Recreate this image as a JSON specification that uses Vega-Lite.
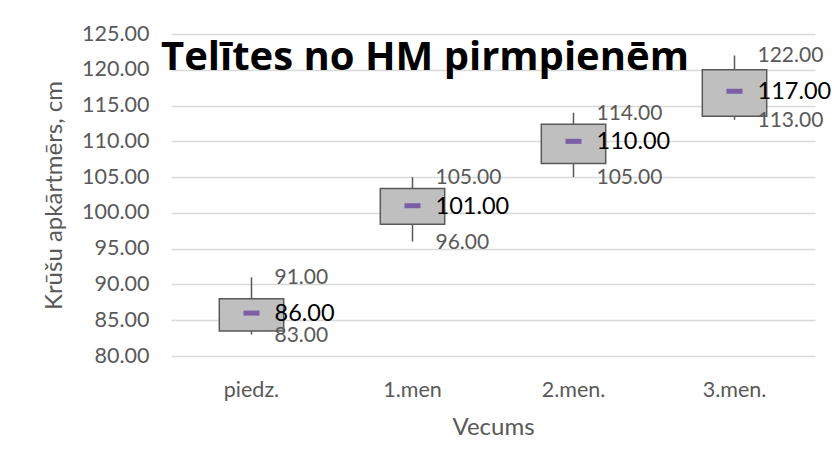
{
  "$schema": "https://vega.github.io/schema/vega-lite/v6.json",
  "autosize": {"type": "none"},
  "padding": {"left": 171, "top": 34, "right": 22, "bottom": 116},
  "width": 644,
  "height": 322,
  "background": "white",
  "title": {
    "text": "Telītes no HM pirmpienēm",
    "font": "Open Sans",
    "fontWeight": "bold",
    "fontSize": 40,
    "color": "black",
    "orient": "none",
    "anchor": "start",
    "frame": "group",
    "baseline": "alphabetic",
    "offset": 0,
    "dx": -10,
    "dy": 36
  },
  "data": {
    "values": [
      {"cat": "piedz.", "min": 83, "q1": 83.5, "med": 86, "q3": 88, "max": 91},
      {"cat": "1.men", "min": 96, "q1": 98.4, "med": 101, "q3": 103.4, "max": 105},
      {"cat": "2.men.", "min": 105, "q1": 106.9, "med": 110, "q3": 112.4, "max": 114},
      {"cat": "3.men.", "min": 113, "q1": 113.5, "med": 117, "q3": 120, "max": 122}
    ]
  },
  "encoding": {
    "x": {
      "field": "cat",
      "type": "nominal",
      "sort": null,
      "scale": {"paddingInner": 0, "paddingOuter": 0},
      "axis": {
        "title": "Vecums",
        "labelAngle": 0,
        "ticks": false,
        "tickSize": 0,
        "domain": false,
        "labelPadding": 23,
        "titlePadding": 15
      }
    }
  },
  "layer": [
    {
      "mark": {"type": "rule", "color": "#595959", "strokeWidth": 1.5},
      "encoding": {
        "y": {
          "field": "min",
          "type": "quantitative",
          "scale": {"domain": [80, 125], "nice": false, "zero": false},
          "axis": {
            "title": "Krūšu apkārtmērs, cm",
            "values": [80, 85, 90, 95, 100, 105, 110, 115, 120, 125],
            "format": ".2f",
            "labelOverlap": false,
            "grid": true,
            "ticks": false,
            "tickSize": 0,
            "domain": false,
            "labelPadding": 22,
            "titlePadding": 15
          }
        },
        "y2": {"field": "max"}
      }
    },
    {
      "mark": {"type": "bar", "width": {"band": 0.4}, "fill": "#bfbfbf", "stroke": "#595959", "strokeWidth": 1.5},
      "encoding": {
        "y": {
          "field": "q1",
          "type": "quantitative",
          "scale": {"domain": [80, 125], "nice": false, "zero": false},
          "axis": {
            "title": "Krūšu apkārtmērs, cm",
            "values": [80, 85, 90, 95, 100, 105, 110, 115, 120, 125],
            "format": ".2f",
            "labelOverlap": false,
            "grid": true,
            "ticks": false,
            "tickSize": 0,
            "domain": false,
            "labelPadding": 22,
            "titlePadding": 15
          }
        },
        "y2": {"field": "q3"}
      }
    },
    {
      "mark": {"type": "tick", "color": "#7b5ea6", "thickness": 5, "size": 16, "opacity": 1},
      "encoding": {
        "y": {
          "field": "med",
          "type": "quantitative",
          "scale": {"domain": [80, 125], "nice": false, "zero": false},
          "axis": {
            "title": "Krūšu apkārtmērs, cm",
            "values": [80, 85, 90, 95, 100, 105, 110, 115, 120, 125],
            "format": ".2f",
            "labelOverlap": false,
            "grid": true,
            "ticks": false,
            "tickSize": 0,
            "domain": false,
            "labelPadding": 22,
            "titlePadding": 15
          }
        }
      }
    },
    {
      "mark": {"type": "text", "align": "left", "baseline": "middle", "dx": 23, "dy": 1, "font": "Lato", "fontSize": 21, "color": "#595959"},
      "encoding": {
        "y": {
          "field": "max",
          "type": "quantitative",
          "scale": {"domain": [80, 125], "nice": false, "zero": false},
          "axis": {
            "title": "Krūšu apkārtmērs, cm",
            "values": [80, 85, 90, 95, 100, 105, 110, 115, 120, 125],
            "format": ".2f",
            "labelOverlap": false,
            "grid": true,
            "ticks": false,
            "tickSize": 0,
            "domain": false,
            "labelPadding": 22,
            "titlePadding": 15
          }
        },
        "text": {"field": "max", "type": "quantitative", "format": ".2f"}
      }
    },
    {
      "mark": {"type": "text", "align": "left", "baseline": "middle", "dx": 23, "dy": 1, "font": "Lato", "fontSize": 21, "color": "#595959"},
      "encoding": {
        "y": {
          "field": "min",
          "type": "quantitative",
          "scale": {"domain": [80, 125], "nice": false, "zero": false},
          "axis": {
            "title": "Krūšu apkārtmērs, cm",
            "values": [80, 85, 90, 95, 100, 105, 110, 115, 120, 125],
            "format": ".2f",
            "labelOverlap": false,
            "grid": true,
            "ticks": false,
            "tickSize": 0,
            "domain": false,
            "labelPadding": 22,
            "titlePadding": 15
          }
        },
        "text": {"field": "min", "type": "quantitative", "format": ".2f"}
      }
    },
    {
      "mark": {"type": "text", "align": "left", "baseline": "middle", "dx": 23, "dy": 1, "font": "Lato", "fontSize": 23.5, "color": "black"},
      "encoding": {
        "y": {
          "field": "med",
          "type": "quantitative",
          "scale": {"domain": [80, 125], "nice": false, "zero": false},
          "axis": {
            "title": "Krūšu apkārtmērs, cm",
            "values": [80, 85, 90, 95, 100, 105, 110, 115, 120, 125],
            "format": ".2f",
            "labelOverlap": false,
            "grid": true,
            "ticks": false,
            "tickSize": 0,
            "domain": false,
            "labelPadding": 22,
            "titlePadding": 15
          }
        },
        "text": {"field": "med", "type": "quantitative", "format": ".2f"}
      }
    }
  ],
  "config": {
    "view": {"stroke": null},
    "axis": {
      "labelFont": "Lato",
      "labelFontSize": 21.5,
      "labelColor": "#595959",
      "titleFont": "Lato",
      "titleFontSize": 24,
      "titleFontWeight": "normal",
      "titleColor": "#595959",
      "gridColor": "#d9d9d9",
      "gridWidth": 1.3
    }
  }
}
